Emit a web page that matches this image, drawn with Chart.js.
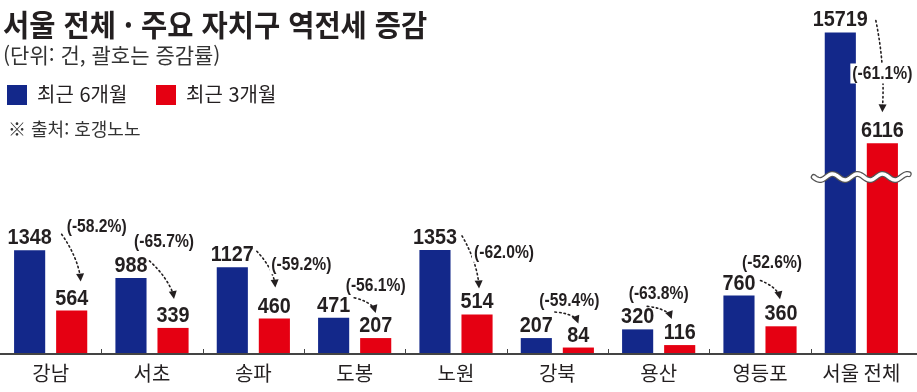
<!DOCTYPE html>
<html lang="ko">
<head>
<meta charset="utf-8">
<script src="https://cdn.jsdelivr.net/npm/chart.js@4.4.1/dist/chart.umd.min.js"></script>
<style>
  html, body { margin: 0; padding: 0; background: #fff; }
  #wrap { position: relative; width: 917px; height: 392px; overflow: hidden; font-family: "Noto Sans CJK KR", sans-serif; color: #231f20; }
  #chart { position: absolute; left: 0; top: 0; }
  .txt { position: absolute; white-space: nowrap; line-height: 1; transform-origin: left top; }
  .title { left: 3px; top: 8px; font-size: 30px; font-weight: 700; transform: scaleX(0.95); }
  .sub { left: 3px; top: 44px; font-size: 21px; color: #333; }
  .leg { top: 84px; font-size: 20px; }
  .box { position: absolute; width: 20px; height: 20px; top: 85px; }
  .src { left: 8px; top: 119px; font-size: 18px; color: #333; }
</style>
</head>
<body>
<div id="wrap">
  <canvas id="chart" width="917" height="392"></canvas>
  <div class="txt title">서울 전체 · 주요 자치구 역전세 증감</div>
  <div class="txt sub">(단위: 건, 괄호는 증감률)</div>
  <div class="box" style="left:7px;background:#13288a"></div>
  <div class="txt leg" style="left:37px">최근 6개월</div>
  <div class="box" style="left:156px;background:#e50012"></div>
  <div class="txt leg" style="left:186px">최근 3개월</div>
  <div class="txt src">※ 출처: 호갱노노</div>
</div>
<script>
const categories = ['강남', '서초', '송파', '도봉', '노원', '강북', '용산', '영등포', '서울 전체'];
const recent6 = [1348, 988, 1127, 471, 1353, 207, 320, 760, 15719];
const recent3 = [564, 339, 460, 207, 514, 84, 116, 360, 6116];
const changeRate = [-58.2, -65.7, -59.2, -56.1, -62.0, -59.4, -63.8, -52.6, -61.1];

// rate label spot: [dx from red bar centre, dy from blue bar top]
const rateSpots = [[25, -24], [-9, -37], [27, -3], [0, -33], [27, 2], [-9, -38], [-21, -36], [-9, -33], [0, 41]];
// arrow start: [dx from right end of blue value, dy from blue bar top]
const arrowFrom = [[10, -16], [2, -17], [3, -16], [4, -20], [5, -14], [2, -26], [-7, -23], [5, -15], [8, -12]];
// arrow tip: [dx from red bar centre, dy from red bar top]
const arrowTo = [[9, -29], [1, -29], [1, -31], [0, -25], [2, -26], [0, -24], [-8, -26], [-1, -27], [0, -31]];

const BLUE = '#13288a';
const RED = '#e50012';
const INK = '#231f20';

// axis break for the 서울 전체 bars
const BREAK_AT = 2300, RESUME_AT = 3200, ABOVE = 0.15;
const shown = v => v <= BREAK_AT ? v : BREAK_AT + (v - RESUME_AT) * ABOVE;

function squeezedText(ctx, txt, x, y, sx) {
  ctx.save();
  ctx.translate(x, y);
  ctx.scale(sx, 1);
  ctx.fillText(txt, 0, 0);
  ctx.restore();
}

const annotations = {
  id: 'annotations',
  afterDraw(chart) {
    const { ctx, scales: { x, y } } = chart;
    const base = y.getPixelForValue(0);
    const blue = chart.getDatasetMeta(0).data;
    const red = chart.getDatasetMeta(1).data;
    ctx.save();

    // bottom line + small ticks between districts
    ctx.strokeStyle = '#444';
    ctx.lineWidth = 2;
    ctx.beginPath(); ctx.moveTo(0, base); ctx.lineTo(chart.width, base); ctx.stroke();
    ctx.lineWidth = 1;
    for (let i = 1; i < categories.length; i++) {
      const px = Math.round((x.getPixelForValue(i - 1) + x.getPixelForValue(i)) / 2) + 0.5;
      ctx.beginPath(); ctx.moveTo(px, base - 5); ctx.lineTo(px, base); ctx.stroke();
    }

    // wavy break line
    const last = categories.length - 1;
    const wy = y.getPixelForValue(BREAK_AT);
    const x0 = blue[last].x - blue[last].width / 2 - 11;
    const x1 = red[last].x + red[last].width / 2 + 11;
    const wave = () => {
      ctx.beginPath();
      for (let px = x0; px <= x1; px++) {
        const py = wy + 3 * Math.sin((px - x0) / 25 * 2 * Math.PI);
        if (px === x0) ctx.moveTo(px, py); else ctx.lineTo(px, py);
      }
    };
    ctx.lineCap = 'round';
    wave(); ctx.strokeStyle = '#555'; ctx.lineWidth = 6; ctx.stroke();
    wave(); ctx.strokeStyle = '#fff'; ctx.lineWidth = 3.5; ctx.stroke();

    // values over bars
    ctx.font = 'bold 22px "Liberation Sans", Arial, sans-serif';
    ctx.fillStyle = INK;
    ctx.textAlign = 'center';
    ctx.textBaseline = 'alphabetic';
    const rightEdges = [];
    categories.forEach((c, i) => {
      squeezedText(ctx, String(recent6[i]), blue[i].x, blue[i].y - 6, 0.9);
      squeezedText(ctx, String(recent3[i]), red[i].x, red[i].y - 6, 0.9);
      rightEdges.push(blue[i].x + ctx.measureText(String(recent6[i])).width * 0.45);
    });

    // dotted arrows
    categories.forEach((c, i) => {
      const sx = rightEdges[i] + arrowFrom[i][0], sy = blue[i].y + arrowFrom[i][1];
      const tx = red[i].x + arrowTo[i][0], ty = red[i].y + arrowTo[i][1];
      const dx = tx - sx, dy = ty - sy, len = Math.hypot(dx, dy);
      const bulge = Math.min(0.15 * len + 1.5, 6);
      const cx = (sx + tx) / 2 + dy / len * bulge;
      const cy = (sy + ty) / 2 - dx / len * bulge;
      let ang = Math.atan2(ty - cy, tx - cx);
      ang = (ang + Math.PI / 2) / 2;
      ctx.setLineDash([1.5, 3]);
      ctx.lineWidth = 1.6;
      ctx.strokeStyle = INK;
      ctx.beginPath(); ctx.moveTo(sx, sy);
      ctx.quadraticCurveTo(cx, cy, tx - 5 * Math.cos(ang), ty - 5 * Math.sin(ang));
      ctx.stroke();
      ctx.setLineDash([]);
      ctx.beginPath();
      ctx.moveTo(tx, ty);
      ctx.lineTo(tx - 8 * Math.cos(ang) + 4 * Math.sin(ang), ty - 8 * Math.sin(ang) - 4 * Math.cos(ang));
      ctx.lineTo(tx - 8 * Math.cos(ang) - 4 * Math.sin(ang), ty - 8 * Math.sin(ang) + 4 * Math.cos(ang));
      ctx.closePath();
      ctx.fillStyle = INK;
      ctx.fill();
    });

    // change rate labels
    ctx.font = 'bold 18px "Liberation Sans", Arial, sans-serif';
    ctx.textBaseline = 'middle';
    changeRate.forEach((r, i) => {
      const txt = '(' + r.toFixed(1) + '%)';
      const lx = red[i].x + rateSpots[i][0];
      const ly = blue[i].y + rateSpots[i][1];
      const w = ctx.measureText(txt).width * 0.87;
      ctx.fillStyle = '#fff';
      ctx.fillRect(lx - w / 2 - 2, ly - 10, w + 4, 20);
      ctx.fillStyle = INK;
      squeezedText(ctx, txt, lx, ly + 1, 0.87);
    });
    ctx.restore();
  }
};

new Chart(document.getElementById('chart'), {
  type: 'bar',
  data: {
    labels: categories,
    datasets: [
      { label: '최근 6개월', data: recent6.map(shown), backgroundColor: BLUE },
      { label: '최근 3개월', data: recent3.map(shown), backgroundColor: RED }
    ]
  },
  options: {
    responsive: false,
    animation: false,
    devicePixelRatio: 1,
    layout: { padding: { left: -2, right: 5, top: 0, bottom: 0 } },
    datasets: { bar: { categoryPercentage: 0.83, barPercentage: 0.74 } },
    plugins: { legend: { display: false }, tooltip: { enabled: false } },
    scales: {
      x: {
        grid: { display: false, drawTicks: false },
        border: { display: false },
        ticks: { padding: 7, color: INK, font: { family: '"Noto Sans CJK KR"', size: 20 } }
      },
      y: { display: false, min: 0, max: 4600 }
    }
  },
  plugins: [annotations]
});
</script>
</body>
</html>
